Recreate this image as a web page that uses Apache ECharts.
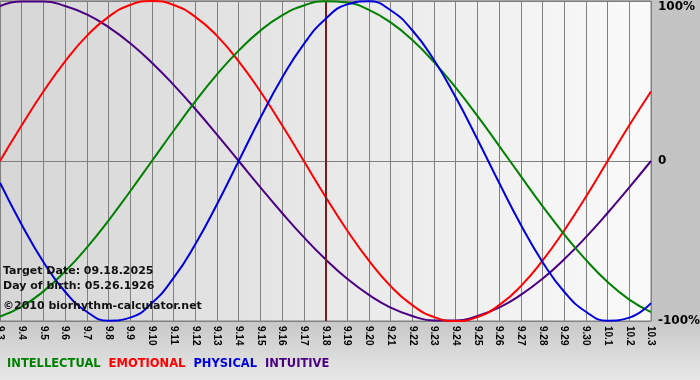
<!DOCTYPE html>
<html>
<head>
<meta charset="utf-8">
<script src="https://cdn.jsdelivr.net/npm/echarts@6/dist/echarts.min.js"></script>
<style>html,body{margin:0;padding:0;background:#c4c4c4}#c{width:700px;height:380px}</style>
</head>
<body>
<div id="c"></div>
<script>
const dates = ['9.3','9.4','9.5','9.6','9.7','9.8','9.9','9.10','9.11','9.12','9.13','9.14','9.15','9.16','9.17','9.18','9.19','9.20','9.21','9.22','9.23','9.24','9.25','9.26','9.27','9.28','9.29','9.30','10.1','10.2','10.3'];
const intellectual = [-97.2,-91.0,-81.5,-69.0,-54.1,-37.2,-18.9,0,18.9,37.2,54.1,69.0,81.5,91.0,97.2,99.9,99.0,94.5,86.6,75.6,61.8,45.8,28.2,9.5,-9.5,-28.2,-45.8,-61.8,-75.6,-86.6,-94.5];
const emotional = [0,22.3,43.4,62.3,78.2,90.1,97.5,100,97.5,90.1,78.2,62.3,43.4,22.3,0,-22.3,-43.4,-62.3,-78.2,-90.1,-97.5,-100,-97.5,-90.1,-78.2,-62.3,-43.4,-22.3,0,22.3,43.4];
const physical = [-13.6,-39.8,-63.1,-81.7,-94.2,-99.8,-97.9,-88.8,-73.1,-52.0,-27.0,0,27.0,52.0,73.1,88.8,97.9,99.8,94.2,81.7,63.1,39.8,13.6,-13.6,-39.8,-63.1,-81.7,-94.2,-99.8,-97.9,-88.8];
const intuitive = [96.9,99.7,99.7,96.9,91.6,83.7,73.6,61.4,47.6,32.5,16.5,0,-16.5,-32.5,-47.6,-61.4,-73.6,-83.7,-91.6,-96.9,-99.7,-99.7,-96.9,-91.6,-83.7,-73.6,-61.4,-47.6,-32.5,-16.5,0];
const yTicks = [-100, 0, 100];
const targetDate = '9.18';
const infoLines = ['Target Date: 09.18.2025', 'Day of birth: 05.26.1926', '\u00a92010 biorhythm-calculator.net'];
const seriesNames = ['INTELLECTUAL','EMOTIONAL','PHYSICAL','INTUITIVE'];
const seriesColors = {INTELLECTUAL:'#008000', EMOTIONAL:'#ff0000', PHYSICAL:'#0000dd', INTUITIVE:'#4b0082'};
const seriesData = {INTELLECTUAL:intellectual, EMOTIONAL:emotional, PHYSICAL:physical, INTUITIVE:intuitive};

const FONT = '"DejaVu Sans", Verdana, sans-serif';
const chart = echarts.init(document.getElementById('c'), null, {renderer:'canvas'});

const drawOrder = ['INTUITIVE','EMOTIONAL','INTELLECTUAL','PHYSICAL'];
const series = drawOrder.map((n, k) => {
  const s = {
    name: n, type: 'line', data: seriesData[n], smooth: true, symbol: 'none',
    lineStyle: {color: seriesColors[n], width: 2}, itemStyle: {color: seriesColors[n]},
    z: 3 + k
  };
  if (k === 0) {
    s.markLine = {
      silent: true, symbol: ['none','none'], label: {show: false},
      lineStyle: {color: '#7a1c1c', width: 2, type: 'solid'},
      data: [{xAxis: targetDate}]
    };
  }
  return s;
});

chart.setOption({
  animation: false,
  backgroundColor: '#c4c4c4',
  grid: {
    left: 0, right: 49, top: 1, bottom: 59, show: true, containLabel: false,
    outerBoundsMode: 'none',
    borderColor: '#808080', borderWidth: 1,
    backgroundColor: new echarts.graphic.LinearGradient(0, 0, 1, 0, [
      {offset: 0, color: '#d6d6d6'}, {offset: 1, color: '#fafafa'}
    ])
  },
  legend: {
    left: -3, top: 353, icon: 'none', itemWidth: 0, itemHeight: 10, itemGap: 3,
    selectedMode: false,
    textStyle: {fontFamily: FONT, fontWeight: 'bold', fontSize: 11.5},
    data: seriesNames.map(n => ({name: n, textStyle: {color: seriesColors[n]}}))
  },
  xAxis: {
    type: 'category', data: dates, boundaryGap: false,
    axisLine: {show: true, lineStyle: {color: '#808080'}},
    axisTick: {show: true, interval: 0, length: 3, lineStyle: {color: '#808080'}},
    splitLine: {show: true, interval: 0, lineStyle: {color: '#808080', width: 1}},
    axisLabel: {interval: 0, rotate: -90, margin: 5, color: '#000', fontFamily: '"Liberation Sans", Arial, sans-serif', fontWeight: 'bold', fontSize: 10}
  },
  yAxis: {
    type: 'value', position: 'right', min: yTicks[0], max: yTicks[2], interval: 100,
    axisLine: {show: false}, axisTick: {show: false},
    splitLine: {show: true, lineStyle: {color: '#808080', width: 1}},
    axisLabel: {
      margin: 7, color: '#000', fontFamily: FONT, fontWeight: 'bold', fontSize: 12,
      formatter: v => v === 100 ? '{t|100%}' : (v === 0 ? '0' : v + '%'),
      rich: {t: {fontFamily: FONT, fontWeight: 'bold', fontSize: 12, color: '#000', padding: [12, 0, 0, 0]}}
    }
  },
  graphic: [
    {type: 'rect', z: -10, shape: {x: 0, y: 322, width: 700, height: 58},
     style: {fill: new echarts.graphic.LinearGradient(0, 0, 0, 1, [
       {offset: 0, color: '#c8c8c8'}, {offset: 1, color: '#e8e8e8'}])}},
    {type: 'text', z: 100, left: 3, top: 266, style: {text: infoLines[0], font: 'bold 11px ' + FONT, fill: '#111'}},
    {type: 'text', z: 100, left: 3, top: 281, style: {text: infoLines[1], font: 'bold 11px ' + FONT, fill: '#111'}},
    {type: 'text', z: 100, left: 3, top: 301, style: {text: infoLines[2], font: 'bold 11px ' + FONT, fill: '#111'}}
  ],
  series: series
});
</script>
</body>
</html>
